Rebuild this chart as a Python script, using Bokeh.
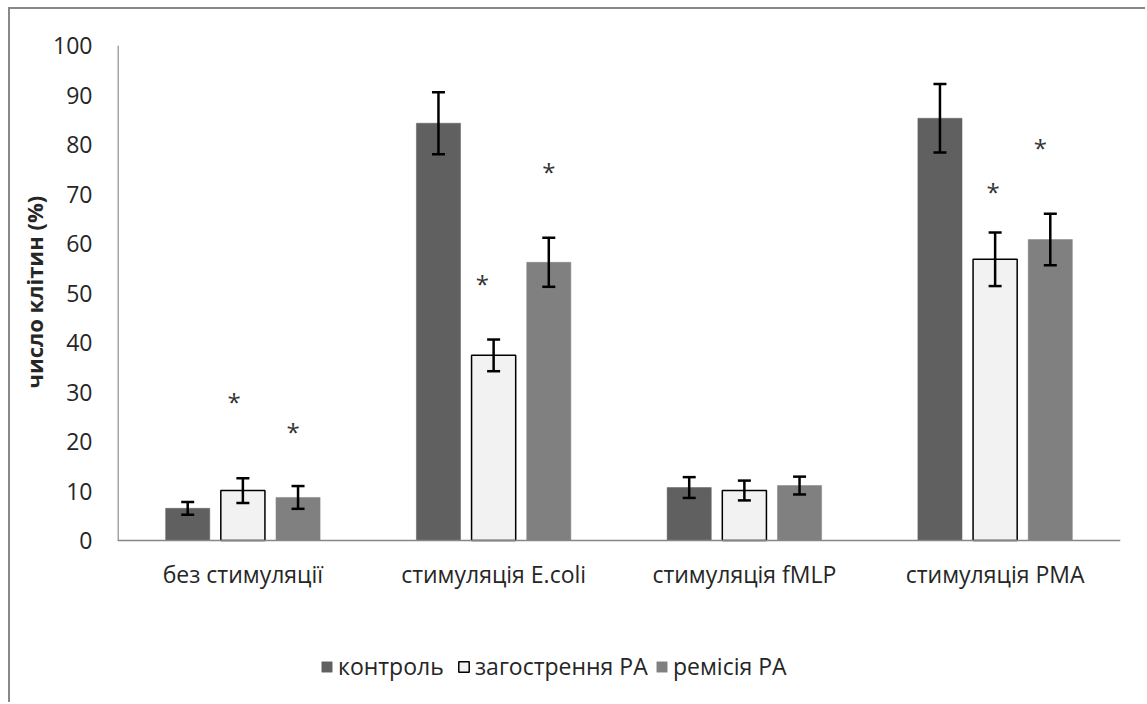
from bokeh.plotting import figure
from bokeh.models import (ColumnDataSource, FactorRange, Range1d, Whisker, TeeHead,
                          Legend, LegendItem, FixedTicker, Title)
from bokeh.transform import dodge
from bokeh.core.properties import value
from bokeh.embed import file_html
from bokeh.resources import INLINE

# ---- data ----
categories = ["без стимуляції", "стимуляція E.coli", "стимуляція fMLP", "стимуляція PMA"]
series_names = ["контроль", "загострення РА", "ремісія РА"]
control = [6.5, 84.3, 10.7, 85.3]
control_err = [1.3, 6.25, 2.1, 6.9]
exacerbation = [10.1, 37.4, 10.1, 56.8]
exacerbation_err = [2.5, 3.2, 2.0, 5.4]
remission = [8.7, 56.2, 11.1, 60.8]
remission_err = [2.3, 4.95, 1.8, 5.2]
# significance marks: (category, series index, height of the mark)
star_cats = ["без стимуляції", "без стимуляції", "стимуляція E.coli", "стимуляція E.coli",
             "стимуляція PMA", "стимуляція PMA"]
star_series = [1, 2, 1, 2, 1, 2]
star_y = [28.0, 22.0, 51.9, 74.5, 70.5, 79.4]
star_shift = [-0.035, -0.02, -0.045, 0.0, -0.008, -0.04]
y_ticks = [0, 10, 20, 30, 40, 50, 60, 70, 80, 90, 100]
y_max = 100

# ---- styling / layout ----
FONT = "Open Sans"
FS = "23px"
TXT = "#262626"
AX = "#868686"
colors = ["#606060", "#f2f2f2", "#808080"]
outlines = [None, "#000000", None]
pitch = 0.22
bar_w = 0.176

FIG_W, FIG_H = 1137, 695
TOP_PAD, LEFT_PAD, RIGHT_PAD = 36, 107, 27
PX_PER_UNIT = 4.95
frame_h = FIG_H - TOP_PAD
y_start = y_max - frame_h / PX_PER_UNIT

p = figure(x_range=FactorRange(factors=categories, range_padding=0),
           y_range=Range1d(y_start, y_max),
           width=FIG_W, height=FIG_H,
           min_border_left=LEFT_PAD, min_border_right=RIGHT_PAD,
           min_border_top=TOP_PAD, min_border_bottom=0,
           output_backend="svg", toolbar_location=None,
           margin=(7, 0, 0, 8))
p.styles = {"border-left": "2px solid #888888", "border-top": "2px solid #888888"}
p.outline_line_color = None
p.xgrid.grid_line_color = None
p.ygrid.grid_line_color = None
p.background_fill_color = "white"
p.border_fill_color = "white"

vals = [control, exacerbation, remission]
errs = [control_err, exacerbation_err, remission_err]
offsets = [-pitch, 0.0, pitch]

renderers = []
for i in range(3):
    src = ColumnDataSource(dict(cat=categories, top=vals[i],
                                upper=[v + e for v, e in zip(vals[i], errs[i])],
                                lower=[v - e for v, e in zip(vals[i], errs[i])]))
    r = p.vbar(x=dodge("cat", offsets[i], range=p.x_range), top="top", bottom=0,
               width=bar_w, source=src, fill_color=colors[i],
               line_color=outlines[i] if outlines[i] else colors[i],
               line_width=1.5 if outlines[i] else 0.5)
    renderers.append(r)
    w = Whisker(base=dodge("cat", offsets[i], range=p.x_range), upper="upper", lower="lower",
                source=src, line_color="black", line_width=2.5, level="overlay",
                upper_head=TeeHead(size=13, line_width=2.5, line_color="black"),
                lower_head=TeeHead(size=13, line_width=2.5, line_color="black"))
    p.add_layout(w)

# y axis line (only from 0 to 100, like the reference)
p.segment(x0=[0.002], x1=[0.002], y0=[0], y1=[y_max], line_color=AX, line_width=1.5)

# stars
for k in range(len(star_y)):
    s = ColumnDataSource(dict(cat=[star_cats[k]], y=[star_y[k]]))
    p.text(x=dodge("cat", offsets[star_series[k]] + star_shift[k], range=p.x_range), y="y",
           text=value("*"), source=s, text_font=value(FONT), text_font_size="24px",
           text_color="#333333", text_align="center", text_baseline="middle")

# axes
p.xaxis.fixed_location = 0
p.xaxis.axis_line_color = AX
p.xaxis.axis_line_width = 1.5
p.xaxis.major_tick_line_color = None
p.xaxis.minor_tick_line_color = None
p.xaxis.major_label_text_font = FONT
p.xaxis.major_label_text_font_size = FS
p.xaxis.major_label_text_color = TXT
p.xaxis.major_label_standoff = 11

p.yaxis.ticker = FixedTicker(ticks=y_ticks)
p.yaxis.axis_line_color = None
p.yaxis.major_tick_line_color = None
p.yaxis.minor_tick_line_color = None
p.yaxis.major_tick_out = 0
p.yaxis.minor_tick_out = 0
p.yaxis.major_label_text_font = FONT
p.yaxis.major_label_text_font_size = FS
p.yaxis.major_label_text_color = TXT
p.yaxis.major_label_standoff = 25

ytitle = Title(text="число клітин (%)", align="left", offset=316, standoff=4,
               text_font=FONT, text_font_size="22px", text_font_style="bold",
               text_color=TXT)
p.add_layout(ytitle, "left")

legend_x = [203, 340, 538]
for i in range(3):
    lg = Legend(items=[LegendItem(label=series_names[i], renderers=[renderers[i]])],
                location=(legend_x[i], 22),
                glyph_width=13, glyph_height=13, label_standoff=5,
                padding=0, margin=0, border_line_color=None, background_fill_alpha=0,
                label_text_font=FONT, label_text_font_size=FS, label_text_color=TXT)
    p.add_layout(lg)

open("out.html", "w").write(file_html(p, INLINE))
